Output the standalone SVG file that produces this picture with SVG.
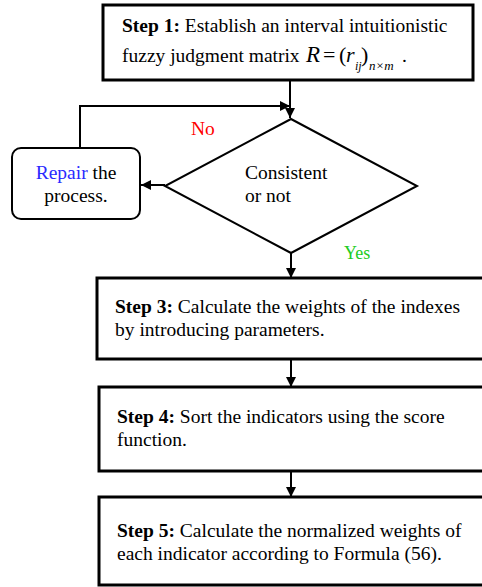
<svg xmlns="http://www.w3.org/2000/svg" width="482" height="587" viewBox="0 0 482 587">
<defs>
<marker id="ah" viewBox="0 0 10 10" refX="10" refY="5" markerWidth="10" markerHeight="10" markerUnits="userSpaceOnUse" orient="auto">
<path d="M0,0 L10,5 L0,10 z" fill="#000"/>
</marker>
</defs>
<style>
.box{fill:#fff;stroke:#000;stroke-width:3}
.con{fill:none;stroke:#000;stroke-width:2;marker-end:url(#ah)}
text{font-family:'Liberation Serif','Times New Roman',serif;font-size:19.5px;fill:#000}
.b{font-weight:bold}
.it{font-style:italic}
</style>
<rect width="482" height="587" fill="#fff"/>
<g id="connectors">
<path class="con" d="M290,80 V118"/>
<path class="con" d="M80,148 V106 H290"/>
<path class="con" d="M165,185 H141"/>
<path class="con" d="M291,253 V278"/>
<path class="con" d="M291,359 V387"/>
<path class="con" d="M291,471 V497"/>
</g>
<g id="step1">
<rect class="box" x="103" y="5" width="370" height="75"/>
<text x="122" y="32"><tspan class="b">Step 1:</tspan> Establish an interval intuitionistic</text>
<text x="122" y="62">fuzzy judgment matrix</text>
<text class="it" x="306" y="62" style="font-size:23px">R</text>
<text x="323" y="62" style="font-size:22px">=</text>
<text x="339" y="62" style="font-size:22px">(</text>
<text class="it" x="346" y="62" style="font-size:22px">r</text>
<text class="it" x="355" y="70" style="font-size:12px">ij</text>
<text x="361" y="62" style="font-size:22px">)</text>
<text class="it" x="369" y="70" style="font-size:13px">n×m</text>
<text x="402" y="62">.</text>
</g>
<g id="decision">
<polygon points="291,119 417,186 291,253 165,186" fill="#fff" stroke="#000" stroke-width="2"/>
<text x="245" y="179">Consistent</text>
<text x="245" y="202">or not</text>
</g>
<g id="repair">
<rect x="12" y="148" width="128" height="71" rx="9" ry="9" fill="#fff" stroke="#000" stroke-width="2"/>
<text x="76" y="179" text-anchor="middle"><tspan style="fill:#2a2aff">Repair</tspan> the</text>
<text x="76" y="202" text-anchor="middle">process.</text>
</g>
<g id="labels">
<text x="191" y="135" style="fill:#ff0000">No</text>
<text x="344" y="259" style="fill:#22cc22;font-size:18px">Yes</text>
</g>
<g id="step3">
<rect class="box" x="97" y="278" width="400" height="81"/>
<text x="115" y="313"><tspan class="b">Step 3:</tspan> Calculate the weights of the indexes</text>
<text x="115" y="336">by introducing parameters.</text>
</g>
<g id="step4">
<rect class="box" x="99" y="387" width="400" height="84"/>
<text x="117" y="423"><tspan class="b">Step 4:</tspan> Sort the indicators using the score</text>
<text x="117" y="446">function.</text>
</g>
<g id="step5">
<rect class="box" x="99" y="497" width="400" height="88"/>
<text x="117" y="537"><tspan class="b">Step 5:</tspan> Calculate the normalized weights of</text>
<text x="117" y="560">each indicator according to Formula (56).</text>
</g>
</svg>
